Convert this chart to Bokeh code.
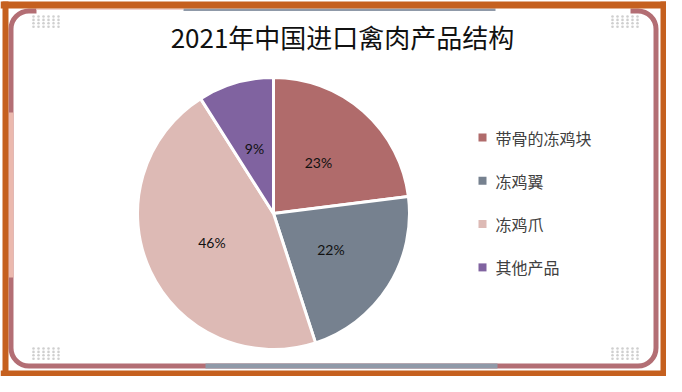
import numpy as np
from bokeh.plotting import figure
from bokeh.models import BoxAnnotation, ColumnDataSource
from bokeh.core.properties import value
from bokeh.embed import file_html
from bokeh.resources import INLINE

# ---- data ----
title = "2021年中国进口禽肉产品结构"
categories = ["带骨的冻鸡块", "冻鸡翼", "冻鸡爪", "其他产品"]
shares = [23, 22, 46, 9]
colors = ["#B06B6B", "#76818F", "#DDBAB5", "#8063A0"]

W, H = 666, 376


def Y(v):
    return H - v


p = figure(width=W, height=H, x_range=(0, W), y_range=(0, H),
           output_backend="svg", toolbar_location=None, min_border=0,
           x_axis_location=None, y_axis_location=None)
p.grid.visible = False
p.outline_line_color = None
p.background_fill_color = "white"
p.border_fill_color = "white"

# ---- decorative frame ----
ORANGE = "#C5601F"
MAUVE = "#B36E74"
PALE = "#EBB9AE"
GRAY = "#8F99A8"

inner = BoxAnnotation(left=10.5, right=W - 10.5, top=Y(10.5), bottom=Y(H - 10.5),
                      fill_color=None, fill_alpha=0, line_color=MAUVE,
                      line_alpha=1.0, line_width=5,
                      border_radius=18, level="underlay")
p.add_layout(inner)

# top edge: lighten the middle, gray segment
p.quad(left=[36], right=[W - 36], top=[Y(7.5)], bottom=[Y(13.5)], fill_color="white", line_color=None)
p.quad(left=[36, 495], right=[183, W - 36], top=[Y(8)], bottom=[Y(9.5)], fill_color="#F0D2CD", line_color=None)
p.quad(left=[183], right=[495], top=[Y(8)], bottom=[Y(10.5)], fill_color=GRAY, line_color=None)
# bottom gray segment
p.quad(left=[205], right=[497], top=[Y(H - 13)], bottom=[Y(H - 8)], fill_color=GRAY, line_color=None)
# pale side segments
p.quad(left=[8, W - 13], right=[13, W - 8], top=[Y(112)], bottom=[Y(277)], fill_color=PALE, line_color=None)

# orange outer band
p.quad(left=[0, 0, 2, W - 6], right=[W, W, 8, W],
       top=[Y(1), Y(H - 6), Y(1), Y(1)], bottom=[Y(8), Y(H), Y(H), Y(H)],
       fill_color=ORANGE, line_color=None)

# dot patterns in the corners
dx, dy = [], []
for ox, oy in [(33, 16), (W - 54, 16), (33, H - 28), (W - 54, H - 28)]:
    for i in range(6):
        for j in range(4):
            dx.append(ox + 5 * i)
            dy.append(Y(oy + 3.4 * j))
p.scatter(dx, dy, size=2.6, fill_color="#CFCFCF", line_color=None)

# ---- pie ----
cx, cy, r = 273, Y(213), 136
frac = np.array(shares, dtype=float) / sum(shares)
cum = np.concatenate([[0], np.cumsum(frac)])
start = np.pi / 2 - 2 * np.pi * cum[:-1]
end = np.pi / 2 - 2 * np.pi * cum[1:]
mid = (start + end) / 2

src = ColumnDataSource(dict(start=start, end=end, color=colors,
                            lx=cx + 0.5 * r * np.cos(mid),
                            ly=cy + 0.5 * r * np.sin(mid),
                            lab=[f"{s}%" for s in shares]))
p.wedge(x=cx, y=cy, radius=r, start_angle="start", end_angle="end",
        direction="clock", fill_color="color", line_color="white",
        line_width=3, source=src)
p.text(x="lx", y="ly", text="lab", source=src, text_align="center",
       text_baseline="middle", text_font=value("Lato"),
       text_font_size="14px", text_color="#111111")

# ---- title ----
p.text(x=[342], y=[Y(36)], text=[title], text_align="center",
       text_baseline="middle", text_font=value("Noto Sans CJK SC"),
       text_font_size="26px", text_color="#111111")

# ---- legend ----
ly = [Y(137 + 43.3 * i) for i in range(len(categories))]
p.rect(x=[482] * len(categories), y=ly, width=8, height=8,
       fill_color=colors, line_color=None)
p.text(x=[495] * len(categories), y=ly, text=categories, text_align="left",
       text_baseline="middle", text_font=value("Noto Sans CJK SC"),
       text_font_size="16px", text_color="#404040")

open("out.html", "w").write(file_html(p, INLINE))
